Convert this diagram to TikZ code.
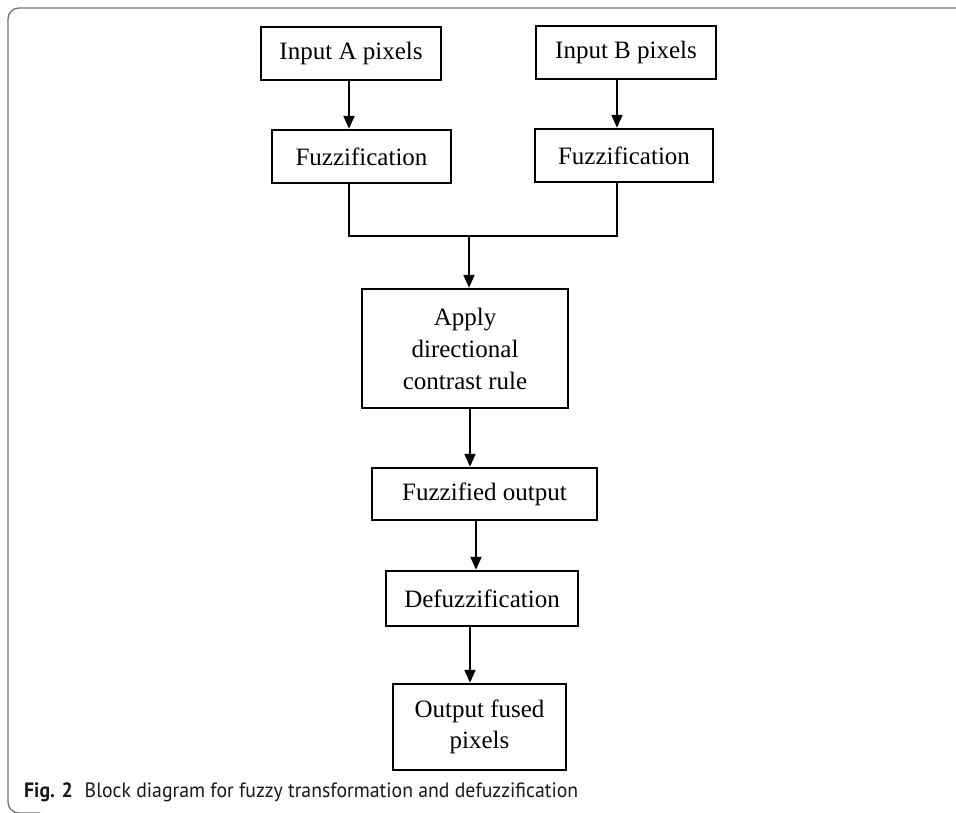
\documentclass[tikz,border=0pt]{standalone}
\usepackage{fontspec}
\setmainfont{Liberation Serif}
\newfontfamily\capfont{PT Sans}
\usetikzlibrary{arrows.meta}
\tikzset{
  blk/.style={draw=black, line width=2.5pt, fill=white, inner sep=0pt, align=center,
    font=\fontsize{25}{32}\selectfont},
  arr/.style={line width=2.2pt, -{Triangle[length=13pt,width=11pt]}},
  ln/.style={line width=2.2pt},
  frame/.style={draw=black!55, line width=1.3pt, rounded corners=11pt}
}
\begin{document}
\begin{tikzpicture}[x=1pt,y=-1pt]
\useasboundingbox (0,0) rectangle (956,812);
\draw[frame] (975,8) -- (8,8) -- (8,813) -- (40,813);
% boxes
\node[blk, minimum width=180pt, minimum height=53pt] (inA) at (351,53.5) {Input A pixels};
\node[blk, minimum width=180pt, minimum height=53pt] (inB) at (626,52.5) {Input B pixels};
\node[blk, minimum width=179pt, minimum height=53pt] (fA) at (361.5,156.5) {Fuzzification};
\node[blk, minimum width=178pt, minimum height=53pt] (fB) at (624,155.5) {Fuzzification};
\node[blk, minimum width=206pt, minimum height=119pt] (ap) at (465,348.5) {Apply\\directional\\contrast rule};
\node[blk, minimum width=225pt, minimum height=52pt] (fo) at (484.5,494) {Fuzzified output};
\node[blk, minimum width=192pt, minimum height=55pt] (df) at (482,598.5) {Defuzzification};
\node[blk, minimum width=173pt, minimum height=86pt, font=\fontsize{25}{31}\selectfont] (out) at (479.5,727) {Output fused\\pixels};
% junction
\coordinate (jl) at (349,236);
\coordinate (jr) at (617,236);
\coordinate (jm) at (469,236);
% connectors
\draw[arr] ([xshift=-2pt]inA.south) -- ([xshift=-2pt]inA.south |- fA.north);
\draw[arr] ([xshift=-9pt]inB.south) -- ([xshift=-9pt]inB.south |- fB.north);
\draw[ln] (fA.south -| jl) -- (jl) -- (jr) -- (fB.south -| jr);
\draw[arr] (jm) -- (jm |- ap.north);
\draw[arr] ([xshift=5pt]ap.south) -- ([xshift=5pt]ap.south |- fo.north);
\draw[arr] ([xshift=-8.5pt]fo.south) -- ([xshift=-8.5pt]fo.south |- df.north);
\draw[arr] ([xshift=-12pt]df.south) -- ([xshift=-12pt]df.south |- out.north);
% caption
\node[anchor=base west, inner sep=0pt, text=black!90] (cap) at (24,797)
  {\resizebox{554pt}{14.8pt}{\capfont\fontsize{18}{20}\selectfont\textbf{Fig. 2}\hspace{0.6em}Block diagram for fuzzy transformation and defuzzification}};
\end{tikzpicture}
\end{document}
